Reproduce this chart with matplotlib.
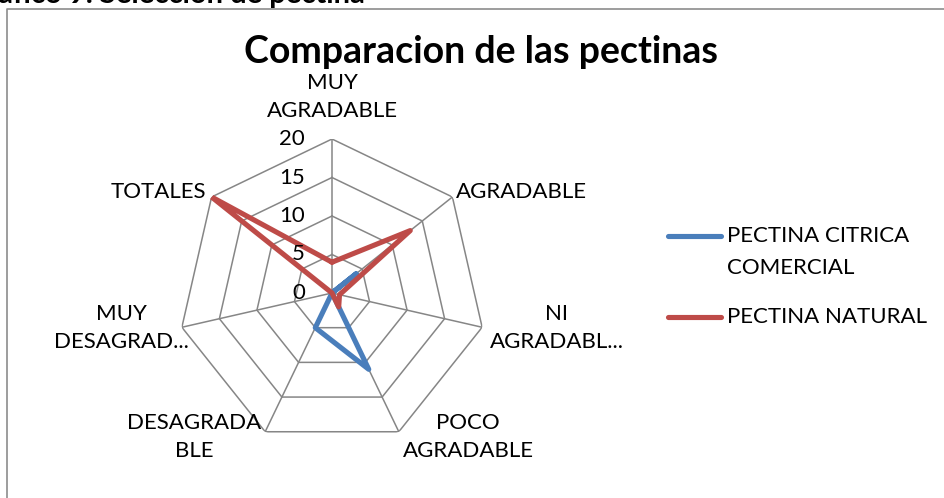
import matplotlib.pyplot as plt
import numpy as np
from matplotlib.lines import Line2D

# categories (clockwise from the top) and scores
categories = ["MUY\nAGRADABLE", "AGRADABLE", "NI\nAGRADABL...", "POCO\nAGRADABLE",
              "DESAGRADA\nBLE", "MUY\nDESAGRAD...", "TOTALES"]
citrica_comercial = [0, 4, 0, 11, 5, 0, 0]
pectina_natural = [4, 13, 1, 2, 0, 0, 20]
series_names = ["PECTINA CITRICA\nCOMERCIAL", "PECTINA NATURAL"]
r_ticks = [0, 5, 10, 15, 20]

blue = "#4a7ebb"
red = "#be4b48"
grid_col = "#868686"

W, H = 945, 498
plt.rcParams['font.family'] = ['Lato', 'DejaVu Sans']


def px(x, y):
    return x / W, 1 - y / H


fig = plt.figure(figsize=(W / 100, H / 100), dpi=100)

# chart frame (only top/left edges visible in the crop)
fig.add_artist(Line2D([7 / W, 7 / W, 1], [0, 1 - 9 / H, 1 - 9 / H],
                      transform=fig.transFigure, color="#8c8c8c", lw=1.2))
fig.text(*px(365, 3), "Gráfico 9. Selección de pectina", ha="right", va="baseline",
         fontsize=21, fontweight="bold")

cx, cy, rad = 332, 293, 154
ax = fig.add_axes([(cx - rad) / W, 1 - (cy + rad) / H, 2 * rad / W, 2 * rad / H],
                  projection="polar")
ax.set_theta_offset(np.pi / 2)
ax.set_theta_direction(-1)
ax.set_ylim(0, 20)
ax.grid(False)
ax.spines["polar"].set_visible(False)
ax.set_xticks([])
ax.set_yticks([])
ax.patch.set_alpha(0)

n = len(categories)
theta = np.arange(n) * 2 * np.pi / n
theta_c = np.append(theta, theta[0])

for r in r_ticks[1:]:
    ax.plot(theta_c, [r] * (n + 1), color=grid_col, lw=1.1, zorder=1)
for t in theta:
    ax.plot([t, t], [0, r_ticks[-1]], color=grid_col, lw=1.1, zorder=1)

for vals, col in [(citrica_comercial, blue), (pectina_natural, red)]:
    ax.plot(theta_c, vals + vals[:1], color=col, lw=3.7, zorder=3,
            solid_joinstyle="round", solid_capstyle="round")

for r in r_ticks:
    y = cy - rad * r / r_ticks[-1]
    fig.text(*px(305, y), str(r), ha="right", va="center", fontsize=16)

fig.text(*px(481, 52), "Comparacion de las pectinas", ha="center", va="center",
         fontsize=27, fontweight="bold")

label_pos = [(332, 97, "center"), (456, 192, "left"), (557, 328, "center"),
             (468, 437, "center"), (194, 437, "center"), (121, 328, "center"),
             (206, 192, "right")]
for lab, (x, y, ha) in zip(categories, label_pos):
    fig.text(*px(x, y), lab, ha=ha, va="center", fontsize=16, linespacing=1.5,
             multialignment="center")

# legend
for name, col, y in [(series_names[0], blue, 236), (series_names[1], red, 317)]:
    fig.add_artist(Line2D([668 / W, 721 / W], [1 - y / H] * 2, transform=fig.transFigure,
                          color=col, lw=3.7, solid_capstyle="round"))
    fig.text(*px(727, y), name.split("\n")[0], ha="left", va="center", fontsize=16)
    if "\n" in name:
        fig.text(*px(727, y + 32), name.split("\n")[1], ha="left", va="center", fontsize=16)

fig.savefig("out.png", dpi=100)
